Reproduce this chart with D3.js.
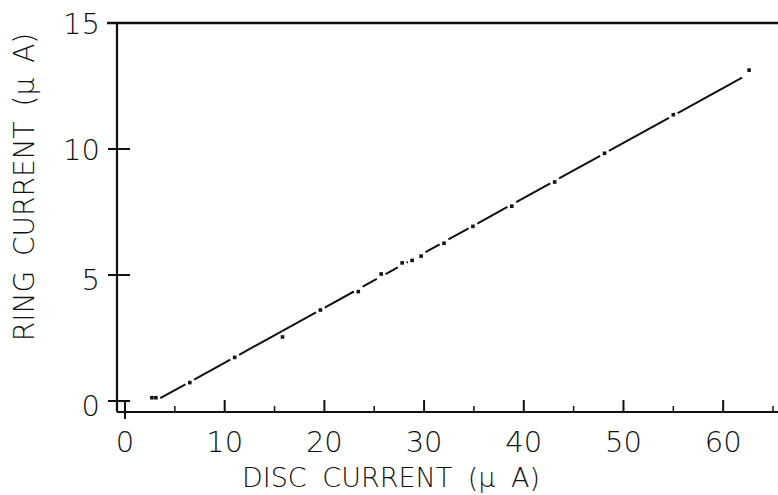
<!DOCTYPE html>
<html>
<head>
<meta charset="utf-8">
<script src="https://cdn.jsdelivr.net/npm/d3@7"></script>
<style>
  body { margin: 0; background: #fff; }
  text { font-family: "DejaVu Sans", sans-serif; font-weight: 200; fill: #111; }
</style>
</head>
<body>
<svg id="chart" width="778" height="495"></svg>
<script>
// values
let disc = [2.7, 3.1, 6.5, 11.0, 15.8, 19.6, 23.4, 25.7, 27.8, 28.8, 29.7, 32.0, 34.9, 38.8, 43.1, 48.1, 55.0, 62.6]
let ring = [0.13, 0.13, 0.73, 1.73, 2.54, 3.61, 4.34, 5.04, 5.48, 5.58, 5.75, 6.26, 6.93, 7.73, 8.69, 9.83, 11.36, 13.13]
let xTicks = [0, 10, 20, 30, 40, 50, 60]
let xMinor = [5, 15, 25, 35, 45, 55, 65]
let yTicks = [0, 5, 10, 15]

svg = d3.select('#chart')

x = d3.scaleLinear().domain([0, 65.5]).range([125, 778])
y = d3.scaleLinear().domain([0, 15]).range([401, 23])

let axisY = 412
let axisX = 117

// frame: left axis, bottom axis, top line
svg.append('line')
    .attr('x1', axisX).attr('x2', axisX)
    .attr('y1', y(15)).attr('y2', axisY)
    .attr('stroke', '#111').attr('stroke-width', 2.2)
svg.append('line')
    .attr('x1', axisX).attr('x2', 778)
    .attr('y1', axisY).attr('y2', axisY)
    .attr('stroke', '#111').attr('stroke-width', 2)
svg.append('line')
    .attr('x1', axisX - 10).attr('x2', 778)
    .attr('y1', y(15)).attr('y2', y(15))
    .attr('stroke', '#111').attr('stroke-width', 2.6)

// y ticks cross the axis
svg.selectAll('.ytick').data(yTicks).enter().append('line')
    .attr('x1', axisX - 9).attr('x2', d => d == 15 ? axisX : axisX + 13)
    .attr('y1', d => y(d)).attr('y2', d => y(d))
    .attr('stroke', '#111').attr('stroke-width', 2)

svg.selectAll('.ylab').data(yTicks).enter().append('text')
    .text(d => d)
    .attr('x', 100)
    .attr('y', d => y(d) + 11 + (d < 10 ? 4 : 0))
    .attr('text-anchor', 'end')
    .attr('font-size', 29)

// x ticks
svg.selectAll('.xtick').data(xTicks).enter().append('line')
    .attr('x1', d => x(d)).attr('x2', d => x(d))
    .attr('y1', axisY - 12).attr('y2', d => d == 0 ? axisY + 7 : axisY)
    .attr('stroke', '#111').attr('stroke-width', 2)
svg.selectAll('.xminor').data(xMinor).enter().append('line')
    .attr('x1', d => x(d)).attr('x2', d => x(d))
    .attr('y1', axisY - 6).attr('y2', axisY)
    .attr('stroke', '#111').attr('stroke-width', 1.5)

svg.selectAll('.xlab').data(xTicks).enter().append('text')
    .text(d => d)
    .attr('x', d => x(d))
    .attr('y', 452)
    .attr('text-anchor', 'middle')
    .attr('font-size', 29)

// axis titles
svg.append('text').text('DISC CURRENT (\u03bc A)')
    .attr('x', 391).attr('y', 487)
    .attr('text-anchor', 'middle')
    .attr('font-size', 27)
    .attr('word-spacing', 7)

svg.append('text').text('RING CURRENT (\u03bc A)')
    .attr('transform', 'translate(34,187) rotate(-90)')
    .attr('text-anchor', 'middle')
    .attr('font-size', 28)
    .attr('word-spacing', 6)

// least squares line through the points, broken at each point
let n = disc.length
let mx = d3.mean(disc), my = d3.mean(ring)
let slope = d3.sum(disc, (d, i) => (d - mx) * (ring[i] - my)) / d3.sum(disc, d => (d - mx) * (d - mx))
let icpt = my - slope * mx
let fit = v => icpt + slope * v

let gap = 5
let segs = []
for (let i = 1; i < n - 1; i++) {
    let x0 = x(disc[i]), y0 = y(fit(disc[i]))
    let x1 = x(disc[i + 1]), y1 = y(fit(disc[i + 1]))
    let len = Math.hypot(x1 - x0, y1 - y0)
    let ux = (x1 - x0) / len, uy = (y1 - y0) / len
    let g0 = Math.abs(y(ring[i]) - y0) < 4 ? gap : 0
    let g1 = Math.abs(y(ring[i + 1]) - y1) < 4 ? gap : 0
    if (i == n - 2) g1 = gap + 3
    if (len - g0 - g1 > 1) segs.push([x0 + ux * g0, y0 + uy * g0, x1 - ux * g1, y1 - uy * g1])
}
svg.selectAll('.seg').data(segs).enter().append('line')
    .attr('x1', d => d[0]).attr('y1', d => d[1])
    .attr('x2', d => d[2]).attr('y2', d => d[3])
    .attr('stroke', '#111').attr('stroke-width', 2)

svg.selectAll('.pt').data(disc).enter().append('rect')
    .attr('x', d => x(d) - 1.8)
    .attr('y', (d, i) => y(ring[i]) - 1.8)
    .attr('width', 3.6).attr('height', 3.6)
    .attr('fill', '#111')
</script>
</body>
</html>
